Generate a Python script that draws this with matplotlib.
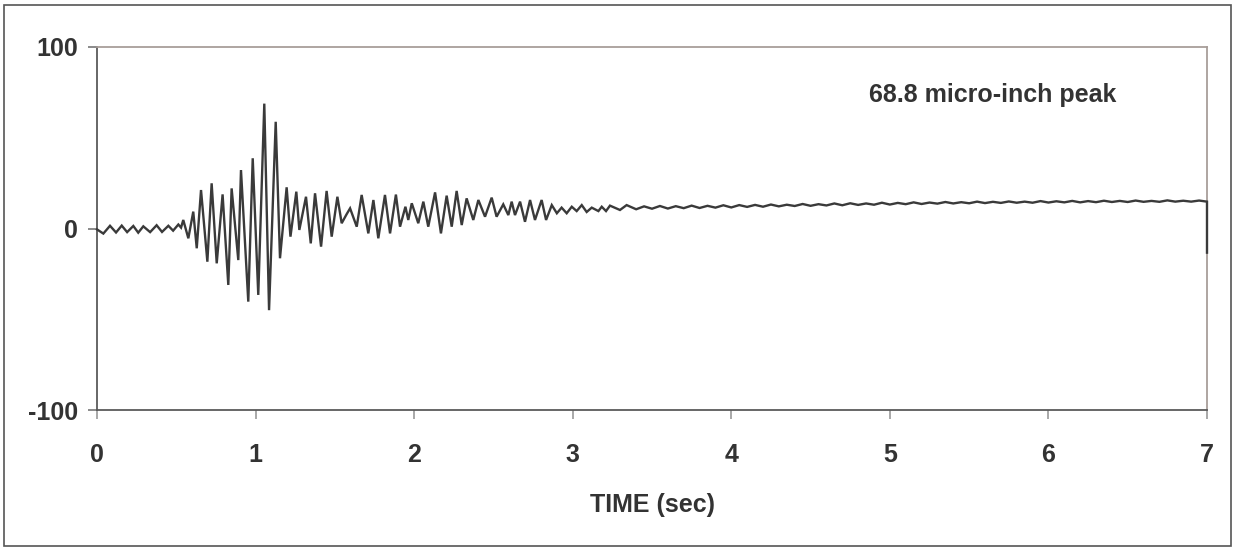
import matplotlib.pyplot as plt
from matplotlib.patches import Rectangle

# peaks / troughs (sec, micro-inch)
event_t = [0.0, 0.04, 0.082, 0.12, 0.156, 0.19, 0.229, 0.26, 0.292, 0.335,
           0.376, 0.41, 0.45, 0.48, 0.513, 0.53,
           0.544, 0.576, 0.607, 0.629, 0.656, 0.696, 0.723, 0.755, 0.792, 0.828,
           0.849, 0.891, 0.908, 0.954, 0.982, 1.017, 1.055, 1.085, 1.127, 1.154,
           1.196, 1.220, 1.257, 1.276, 1.318, 1.348, 1.375, 1.413, 1.448, 1.480,
           1.516, 1.543, 1.575, 1.596, 1.638, 1.669, 1.711, 1.743, 1.774, 1.816,
           1.848, 1.885, 1.911, 1.945, 1.963, 1.985, 2.026, 2.058, 2.089, 2.132,
           2.169, 2.205, 2.237, 2.268, 2.300, 2.331, 2.373, 2.405, 2.447, 2.489,
           2.520, 2.562, 2.594, 2.615, 2.636, 2.668, 2.699, 2.731, 2.762, 2.804,
           2.832, 2.868, 2.900, 2.930, 2.962, 2.994, 3.025, 3.057, 3.088, 3.120,
           3.162, 3.183, 3.210, 3.235, 3.298, 3.340]
event_v = [-0.5, -2.8, 1.5, -2.2, 1.6, -2.0, 1.4, -2.3, 1.2, -2.0,
           1.8, -1.9, 1.5, -1.2, 2.2, 0.5,
           4.7, -5.4, 9.3, -10.9, 21.2, -18.3, 24.9, -19.2, 18.8, -31.1,
           22.1, -17.4, 32.2, -40.3, 38.7, -36.6, 68.8, -45.0, 58.8, -16.4,
           22.7, -4.5, 20.3, -0.8, 17.5, -8.2, 19.4, -10.0, 20.7, -4.5,
           17.5, 2.9, 8.0, 11.1, 1.0, 18.5, -2.7, 15.7, -5.4, 18.5,
           -2.7, 18.7, 1.0, 12.0, 4.7, 13.9, 2.9, 14.8, 1.0, 19.9,
           -2.7, 18.1, 1.0, 20.7, 1.9, 16.6, 4.7, 15.7, 6.5, 17.0,
           6.5, 13.3, 7.4, 14.8, 7.4, 14.8, 3.7, 15.7, 4.7, 15.7,
           4.7, 12.9, 8.4, 11.5, 8.4, 12.0, 9.6, 12.9, 9.1, 11.5,
           9.6, 12.0, 9.6, 12.6, 10.2, 12.9]

# slow drift after 3.4 s, sampled every 0.05 s
tail_start, tail_step = 3.40, 0.05
tail_v = [10.6, 12.2, 10.9, 12.4, 11.0, 12.3, 11.2, 12.6, 11.3, 12.5, 11.5, 12.8,
          11.6, 12.9, 11.9, 13.0, 12.0, 13.2, 12.2, 13.1, 12.4, 13.5, 12.5, 13.4,
          12.7, 13.8, 12.8, 13.9, 13.0, 13.8, 13.1, 14.2,
          13.2, 14.1, 13.4, 14.4, 13.5, 14.3, 13.7, 14.6, 13.8, 14.5, 13.9, 14.8,
          14.0, 14.7, 14.1, 14.9, 14.2, 14.8, 14.2, 15.1,
          14.3, 15.0, 14.4, 15.2, 14.4, 15.1, 14.5, 15.3, 14.6, 15.2, 14.6, 15.4,
          14.7, 15.2, 14.7, 15.5, 14.8, 15.3, 14.8, 15.4]
end_t = [7.0, 7.0]
end_v = [14.8, -13.3]

tail_t = [round(tail_start + tail_step * i, 2) for i in range(len(tail_v))]
t = event_t + tail_t + end_t
v = event_v + tail_v + end_v

plt.rcParams['font.family'] = ['Liberation Sans', 'DejaVu Sans']
plt.rcParams['axes.unicode_minus'] = False
txt = '#333333'

fig = plt.figure(figsize=(12.33, 5.48), dpi=100)
ax = fig.add_axes([97/1233, 138/548, 1110/1233, 363/548])

ax.plot(t, v, color='#3a3a3a', lw=1.7, solid_joinstyle='miter', clip_on=False, zorder=3)

ax.set_xlim(0, 7)
ax.set_ylim(-100, 100)
ax.set_xticks(range(8))
ax.set_yticks([-100, 0, 100])

for s in ['left', 'bottom']:
    ax.spines[s].set_color('#5a5a5a')
    ax.spines[s].set_linewidth(1.3)
for s in ['top', 'right']:
    ax.spines[s].set_color('#a89e9a')
    ax.spines[s].set_linewidth(1.3)

ax.tick_params(axis='y', direction='out', length=6.5, width=1.2, color='#777777',
               pad=7, labelsize=18, labelcolor=txt)
ax.tick_params(axis='x', direction='out', length=6.5, width=1.2, color='#999999',
               pad=17, labelsize=18, labelcolor=txt)
for lab in ax.get_xticklabels() + ax.get_yticklabels():
    lab.set_fontweight('bold')

ax.set_xlabel('TIME (sec)', fontsize=18, fontweight='bold', color=txt, va='center')
ax.xaxis.set_label_coords(0.5, -0.262)

ax.text(5.65, 73.5, '68.8 micro-inch peak', fontsize=18, fontweight='bold',
        color=txt, ha='center', va='center')

fig.patches.append(Rectangle((4/1233, 2/548), 1227/1233, 541/548, transform=fig.transFigure,
                             fill=False, edgecolor='#555555', lw=1.2))

fig.savefig('out.png', dpi=100)
print("Saved out.png")
